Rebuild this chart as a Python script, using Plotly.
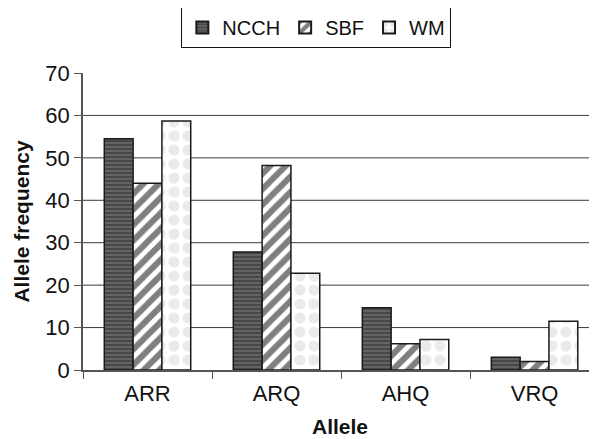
import plotly.graph_objects as go

categories = ["ARR", "ARQ", "AHQ", "VRQ"]
series_names = ["NCCH", "SBF", "WM"]
ncch = [54.5, 27.8, 14.7, 3.0]
sbf = [44.0, 48.2, 6.2, 2.0]
wm = [58.7, 22.8, 7.2, 11.5]
y_ticks = [0, 10, 20, 30, 40, 50, 60, 70]

FONT = "Liberation Sans, Arial, sans-serif"

styles = {
    "NCCH": dict(color="#505050", pattern=dict(shape="-", fgcolor="#8c8c8c", bgcolor="#484848", size=4, solidity=0.4)),
    "SBF": dict(color="white", pattern=dict(shape="/", fgcolor="#000000", bgcolor="white", size=11, solidity=0.55)),
    "WM": dict(color="white", pattern=dict(shape=".", fgcolor="#d6d6d6", bgcolor="white", size=14, solidity=0.5)),
}

fig = go.Figure()
for name, vals in zip(series_names, [ncch, sbf, wm]):
    st = styles[name]
    fig.add_trace(go.Bar(
        x=categories, y=vals, name=name,
        marker=dict(color=st["color"], pattern=st["pattern"],
                    line=dict(color="#1a1a1a", width=1.5)),
    ))

for v in y_ticks[1:-1]:
    fig.add_shape(type="line", xref="paper", x0=0, x1=1, yref="y", y0=v, y1=v,
                  line=dict(color="#3a3a3a", width=1), layer="below")

# page body has an 8px margin, so the figure is drawn 8px in from the window edge
fig.update_layout(
    width=589, height=431,
    margin=dict(l=75, r=0, t=65, b=69, autoexpand=False),
    paper_bgcolor="white", plot_bgcolor="white",
    barmode="group", bargap=0.33, bargroupgap=0,
    font=dict(family=FONT, size=22, color="#111"),
    legend=dict(orientation="h", x=0.454, xanchor="center", y=1.222, yanchor="top",
                bordercolor="#111", borderwidth=1, font=dict(size=20),
                itemsizing="constant", tracegroupgap=0),
    xaxis=dict(range=[-0.5, 3.484], showline=True, linecolor="#555", linewidth=1.5,
               ticks="outside", tickson="boundaries", ticklen=7, tickcolor="#555",
               showgrid=False, tickfont=dict(size=22), automargin=False, ticklabelstandoff=3,
               title=dict(text="<b>Allele</b>", font=dict(size=21), standoff=14)),
    yaxis=dict(range=[0, 70], tickvals=y_ticks, showline=True, linecolor="#555", linewidth=1.5,
               ticks="outside", ticklen=7, tickcolor="#555", showgrid=False, zeroline=False,
               tickfont=dict(size=22), automargin=False,
               title=dict(text="<b>Allele frequency</b>", font=dict(size=21), standoff=10)),
)

fig.write_html("out.html")
